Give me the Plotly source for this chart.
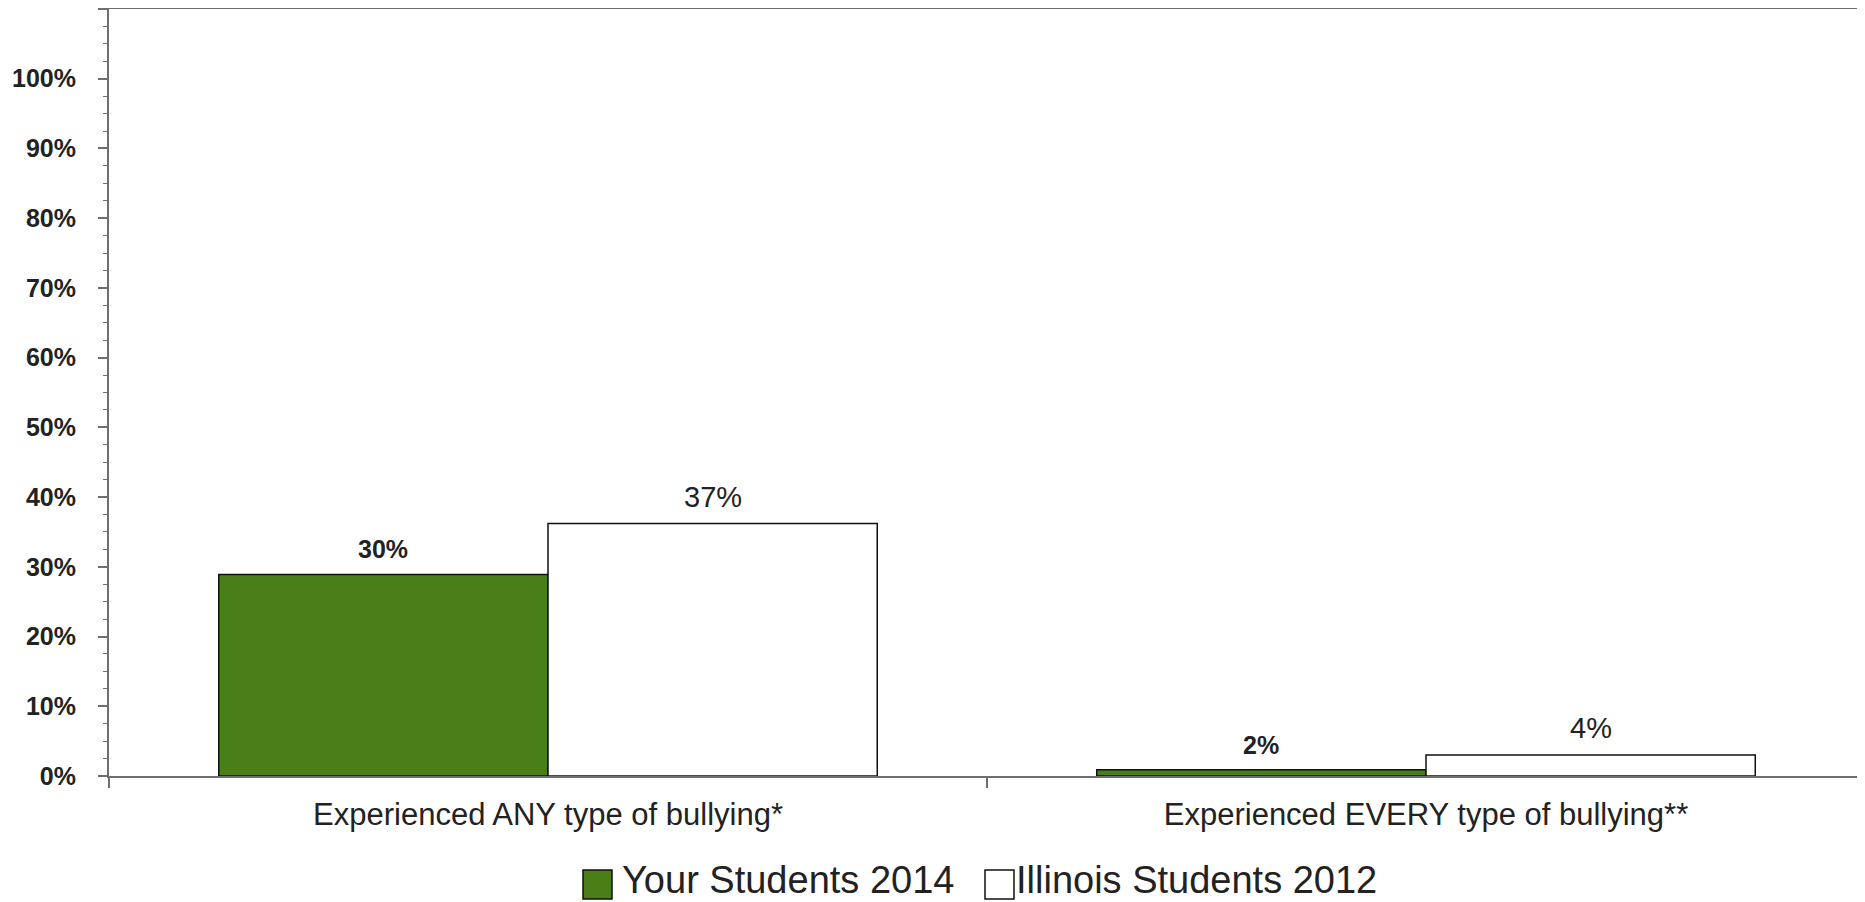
import plotly.graph_objects as go

categories = ["Experienced ANY type of bullying*", "Experienced EVERY type of bullying**"]
series_names = ["Your Students 2014", "Illinois Students 2012"]
your_students_2014 = [28.9, 0.9]
illinois_students_2012 = [36.2, 3.0]
your_labels = ["30%", "2%"]
illinois_labels = ["37%", "4%"]
y_tick_values = [0, 10, 20, 30, 40, 50, 60, 70, 80, 90, 100, 110]
y_tick_labels = ["0%", "10%", "20%", "30%", "40%", "50%", "60%", "70%", "80%", "90%", "100%", ""]

GREEN = "#4a7e17"
AXIS = "#6e6e6e"
TEXT = "#222222"
FONT = "Liberation Sans, Arial, sans-serif"

PAGE = 8  # default body margin of the html page
W, H = 1865 - PAGE, 902 - PAGE
ML, MR, MT, MB = 101, 0, 1, 126
BARGAP = 0.25

fig = go.Figure()
fig.add_trace(go.Bar(
    x=categories, y=your_students_2014, name=series_names[0],
    marker=dict(color=GREEN, line=dict(color="#111111", width=1.5)),
    showlegend=False, hoverinfo="skip",
))
fig.add_trace(go.Bar(
    x=categories, y=illinois_students_2012, name=series_names[1],
    marker=dict(color="#ffffff", line=dict(color="#111111", width=1.5)),
    showlegend=False, hoverinfo="skip",
))

# data labels above the bars
plot_w = W - ML - MR
plot_h = H - MT - MB
cat_w = plot_w / len(categories)
bar_offset = cat_w * (1 - BARGAP) / 4
annotations = []
for cat, v, t in zip(categories, your_students_2014, your_labels):
    annotations.append(dict(x=cat, y=v, xref="x", yref="y", text=t, showarrow=False,
                            xshift=-bar_offset, yshift=25, yanchor="middle",
                            font=dict(family=FONT, size=25, color=TEXT, weight="bold")))
for cat, v, t in zip(categories, illinois_students_2012, illinois_labels):
    annotations.append(dict(x=cat, y=v, xref="x", yref="y", text=t, showarrow=False,
                            xshift=bar_offset, yshift=27, yanchor="middle",
                            font=dict(family=FONT, size=29, color=TEXT)))

# custom legend (large square swatches like the original); positions in page pixels
def px_x(p):
    return (p - PAGE - ML) / plot_w
def px_y(p):
    return (H - MB - (p - PAGE)) / plot_h

shapes = [
    dict(type="rect", xref="paper", yref="paper", x0=px_x(583), x1=px_x(612),
         y0=px_y(899), y1=px_y(870), fillcolor=GREEN, line=dict(color="#111111", width=1.5)),
    dict(type="rect", xref="paper", yref="paper", x0=px_x(985), x1=px_x(1014),
         y0=px_y(899), y1=px_y(870), fillcolor="#ffffff", line=dict(color="#111111", width=1.5)),
]
annotations.append(dict(x=px_x(621), y=px_y(880), xref="paper", yref="paper", text=series_names[0],
                        showarrow=False, xanchor="left", yanchor="middle", borderpad=0,
                        font=dict(family=FONT, size=38, color=TEXT)))
annotations.append(dict(x=px_x(1015), y=px_y(880), xref="paper", yref="paper", text=series_names[1],
                        showarrow=False, xanchor="left", yanchor="middle", borderpad=0,
                        font=dict(family=FONT, size=38, color=TEXT)))

fig.update_layout(
    width=W, height=H,
    margin=dict(l=ML, r=MR, t=MT, b=MB, pad=0),
    paper_bgcolor="white", plot_bgcolor="white",
    barmode="group", bargap=BARGAP, bargroupgap=0,
    showlegend=False,
    annotations=annotations,
    shapes=shapes,
    font=dict(family=FONT, color=TEXT),
)
fig.update_xaxes(
    showline=True, linecolor=AXIS, linewidth=2, mirror=True,
    ticks="outside", tickson="boundaries", ticklen=10, tickwidth=1.5, tickcolor=AXIS,
    showgrid=False, zeroline=False,
    tickfont=dict(family=FONT, size=31, color=TEXT),
    ticklabelstandoff=10,
)
fig.update_yaxes(
    range=[0, 110],
    tickmode="array", tickvals=y_tick_values, ticktext=y_tick_labels,
    showline=True, linecolor=AXIS, linewidth=2, mirror=False,
    ticks="outside", ticklen=9, tickwidth=1.5, tickcolor=AXIS,
    showgrid=False, zeroline=False,
    tickfont=dict(family=FONT, size=25, color=TEXT, weight="bold"),
    ticklabelstandoff=17,
    minor=dict(ticks="outside", ticklen=4, tickwidth=1.2, tickcolor=AXIS, dtick=2.5, tick0=0, showgrid=False),
)

fig.write_html("out.html")
